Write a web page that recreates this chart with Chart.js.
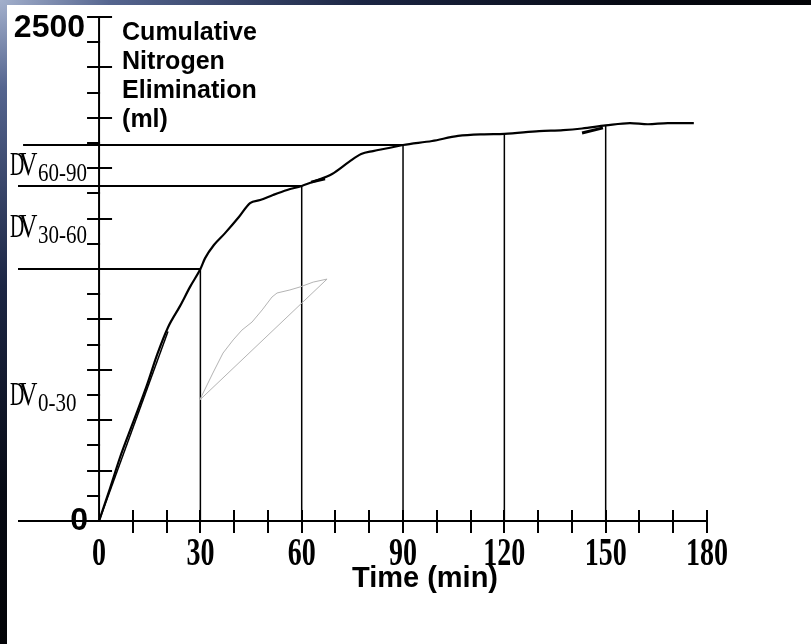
<!DOCTYPE html>
<html>
<head>
<meta charset="utf-8">
<script src="https://cdn.jsdelivr.net/npm/chart.js@4.4.1/dist/chart.umd.min.js"></script>
<style>
  html, body {
    margin: 0; padding: 0; width: 811px; height: 644px; overflow: hidden;
    background: radial-gradient(ellipse at 0 0, #a3b0cc 0, #55658f 110px, #1c2644 360px, #070a14 620px, #000 900px);
  }
  canvas { display: block; }
</style>
</head>
<body>
<canvas id="c" width="811" height="644"></canvas>
<script>
// Cumulative nitrogen washout (ml) against time (min)
const timeMin = [0, 3.3, 6.2, 10.1, 14.2, 17.2, 20.4, 24.0, 26.9, 30, 31.4, 34.0, 37.3, 41.4, 44.7, 47.7,
  51.5, 55.7, 60, 63.9, 69.0, 74.0, 77.6, 81.1, 85.8, 90, 98.6, 106.3, 114.0, 120, 130.3, 137.4, 143,
  150, 157.2, 162.5, 168.4, 176.1];
const nitrogenMl = [0, 165, 315, 490, 675, 825, 960, 1067, 1160, 1250, 1304, 1369, 1428, 1508, 1577, 1592,
  1617, 1642, 1662, 1686, 1721, 1781, 1820, 1835, 1850, 1865, 1885, 1910, 1918, 1920, 1934, 1939, 1947,
  1962, 1974, 1968, 1974, 1974];

// Initial slope line
const slopeTime = [0, 20.4];
const slopeMl = [0, 940];

// Small grey inset trace
const insetTime = [29.8, 33.7, 36.7, 39.7, 42.3, 45.3, 48.3, 51.2, 52.7, 56.5, 59.5, 63.4, 67.5, 29.8];
const insetMl = [600, 734, 833, 898, 947, 987, 1047, 1111, 1131, 1146, 1161, 1185, 1200, 600];

// Short tangent pieces on the curve
const tangentTime = [62.8, 66.9, null, 143, 149.2];
const tangentMl = [1681, 1698, null, 1925, 1950];

// Reading marks every 30 min
const markTime = [30, 60, 90, 120, 150];
const markMl = [1250, 1662, 1865, 1920, 1962];

// Interval volumes: levels and labels
const dvLevels = [0, 1250, 1662, 1865];
const dvLabels = ['0-30', '30-60', '60-90'];
const dvLineStart = [-24, -24, -22.5];

// Axes
const xMin = -24, xMax = 180, xStep = 10;
const xTickLabels = [0, 30, 60, 90, 120, 150, 180];
const yMax = 2500, yStep = 125;
const yTitle = ['Cumulative', 'Nitrogen', 'Elimination', '(ml)'];
const xTitle = 'Time (min)';

const pts = (xs, ys) => xs.map((v, i) => (v === null ? { x: null, y: null } : { x: v, y: ys[i] }));

const datasets = [
  { data: pts(timeMin, nitrogenMl), borderColor: '#000', borderWidth: 2.2, cubicInterpolationMode: 'monotone' },
  { data: pts(slopeTime, slopeMl), borderColor: '#000', borderWidth: 1.5 },
  { data: pts(insetTime, insetMl), borderColor: '#b4b4b4', borderWidth: 1 },
  { data: pts(tangentTime, tangentMl), borderColor: '#000', borderWidth: 3, spanGaps: false },
];
markTime.forEach((t, i) => {
  datasets.push({ data: [{ x: t, y: 0 }, { x: t, y: markMl[i] }], borderColor: '#000', borderWidth: 1.5 });
});
dvLabels.forEach((_, i) => {
  const v = dvLevels[i + 1];
  datasets.push({ data: [{ x: dvLineStart[i], y: v }, { x: markTime[i], y: v }], borderColor: '#000', borderWidth: 2 });
});

function condensed(ctx, text, x, y, font, sx, align) {
  ctx.save();
  ctx.font = font;
  ctx.textAlign = align;
  ctx.textBaseline = 'alphabetic';
  ctx.translate(x, y);
  ctx.scale(sx, 1);
  ctx.fillText(text, 0, 0);
  ctx.restore();
}

const frame = {
  id: 'frame',
  beforeDraw(chart) {
    const ctx = chart.ctx;
    ctx.save();
    ctx.fillStyle = '#fff';
    ctx.fillRect(7, 5, 804, 639);
    ctx.restore();
  },
  afterDatasetsDraw(chart) {
    const { ctx, scales: { x, y } } = chart;
    const x0 = x.getPixelForValue(0);
    const y0 = y.getPixelForValue(0);
    ctx.save();
    ctx.strokeStyle = '#000';
    ctx.fillStyle = '#000';
    ctx.lineWidth = 2;

    // axis lines
    ctx.beginPath();
    ctx.moveTo(x.getPixelForValue(xMin), y0);
    ctx.lineTo(x.getPixelForValue(xMax), y0);
    ctx.moveTo(x0, y.getPixelForValue(yMax));
    ctx.lineTo(x0, y0);
    ctx.stroke();

    // y ticks: full cross every 250, left half in between
    ctx.beginPath();
    for (let v = yStep; v <= yMax; v += yStep) {
      const py = Math.round(y.getPixelForValue(v));
      ctx.moveTo(x0 - 12, py);
      ctx.lineTo(v % 250 === 0 ? x0 + 13 : x0 + 1, py);
    }
    // x ticks
    for (let t = xStep; t <= xMax; t += xStep) {
      const px = Math.round(x.getPixelForValue(t));
      ctx.moveTo(px, y0 - 11);
      ctx.lineTo(px, y0 + 12);
    }
    ctx.stroke();

    // x tick labels
    xTickLabels.forEach(t => {
      condensed(ctx, String(t), x.getPixelForValue(t), y0 + 44, 'bold 40px "Liberation Serif", "Times New Roman", serif', 0.7, 'center');
    });
    // x title
    condensed(ctx, xTitle, x.getPixelForValue(96.5), y0 + 66, 'bold 29px "Liberation Sans", Arial, sans-serif', 1, 'center');

    // y end labels
    condensed(ctx, '2500', x0 - 14, y.getPixelForValue(yMax) + 20, 'bold 32px "Liberation Sans", Arial, sans-serif', 1, 'right');
    condensed(ctx, '0', x0 - 11, y0 + 9, 'bold 32px "Liberation Sans", Arial, sans-serif', 1, 'right');

    // y title
    yTitle.forEach((line, i) => {
      condensed(ctx, line, x0 + 23, 40 + i * 29, 'bold 25px "Liberation Sans", Arial, sans-serif', 1, 'left');
    });

    // interval volume labels
    dvLabels.forEach((lab, i) => {
      const py = y.getPixelForValue((dvLevels[i] + dvLevels[i + 1]) / 2);
      condensed(ctx, 'D', 10, py + 10, '34px "Liberation Serif", "Times New Roman", serif', 0.58, 'left');
      condensed(ctx, 'V', 19, py + 10, '34px "Liberation Serif", "Times New Roman", serif', 0.75, 'left');
      condensed(ctx, lab, 38, py + 16, '25px "Liberation Serif", "Times New Roman", serif', 0.84, 'left');
    });
    ctx.restore();
  }
};

new Chart(document.getElementById('c'), {
  type: 'line',
  data: { datasets },
  options: {
    responsive: false,
    animation: false,
    layout: { padding: { left: 18, right: 104, top: 17, bottom: 123 } },
    elements: { point: { radius: 0 }, line: { tension: 0, fill: false } },
    plugins: { legend: { display: false }, tooltip: { enabled: false } },
    scales: {
      x: { type: 'linear', min: xMin, max: xMax, display: false },
      y: { type: 'linear', min: 0, max: yMax, display: false }
    }
  },
  plugins: [frame]
});
</script>
</body>
</html>
